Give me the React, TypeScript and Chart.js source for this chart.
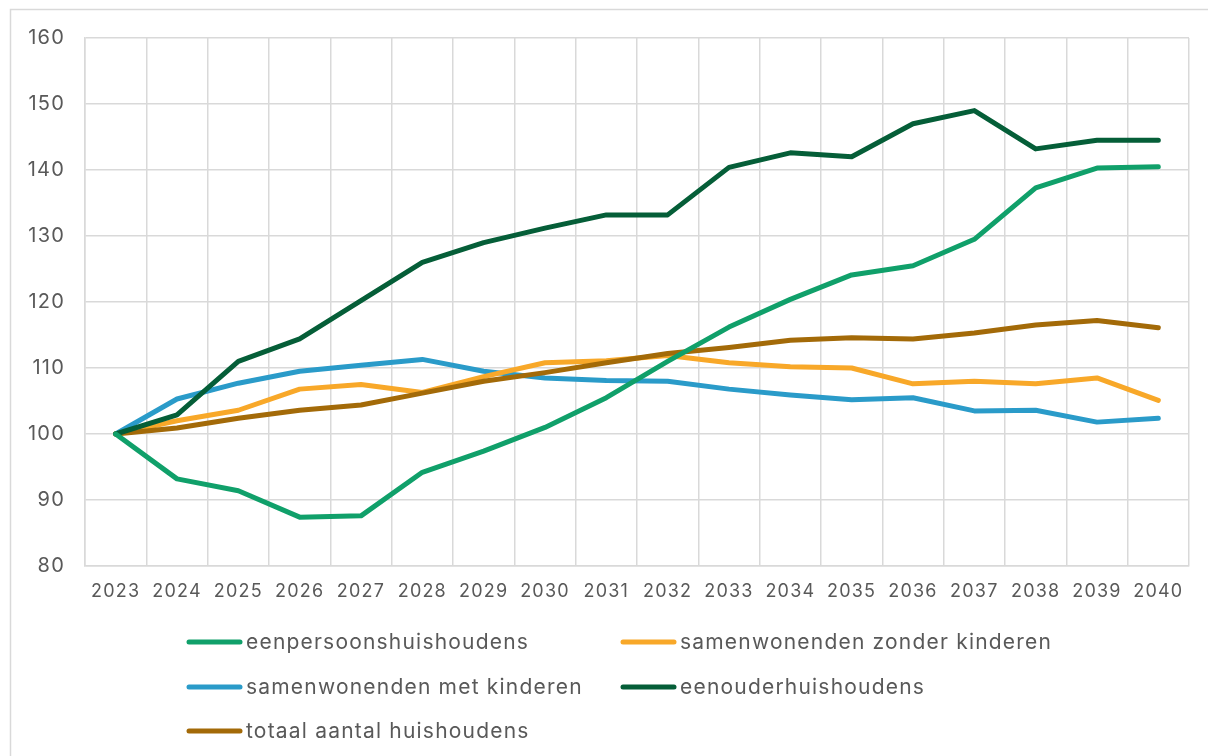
import React, { useEffect, useRef } from "react";
import { Chart, registerables } from "chart.js";

Chart.register(...registerables);

const years = ["2023","2024","2025","2026","2027","2028","2029","2030","2031","2032","2033","2034","2035","2036","2037","2038","2039","2040"];

const eenpersoons = [100, 93.2, 91.4, 87.4, 87.6, 94.2, 97.4, 101.0, 105.5, 111.0, 116.2, 120.4, 124.1, 125.5, 129.5, 137.3, 140.3, 140.5];
const zonderKinderen = [100, 102.0, 103.6, 106.8, 107.5, 106.3, 108.7, 110.8, 111.1, 111.9, 110.8, 110.2, 110.0, 107.6, 108.0, 107.6, 108.5, 105.1];
const metKinderen = [100, 105.3, 107.7, 109.5, 110.4, 111.3, 109.5, 108.5, 108.1, 108.0, 106.8, 105.9, 105.2, 105.5, 103.5, 103.6, 101.8, 102.4];
const eenouder = [100, 102.9, 111.0, 114.4, 120.2, 126.0, 129.0, 131.2, 133.2, 133.2, 140.4, 142.6, 142.0, 147.0, 149.0, 143.2, 144.5, 144.5];
const totaal = [100, 100.9, 102.4, 103.6, 104.4, 106.2, 108.0, 109.3, 110.8, 112.2, 113.1, 114.2, 114.6, 114.4, 115.3, 116.5, 117.2, 116.1];

const seriesLabels = [
  "eenpersoonshuishoudens",
  "samenwonenden zonder kinderen",
  "samenwonenden met kinderen",
  "eenouderhuishoudens",
  "totaal aantal huishoudens",
];
const seriesColors = ["#10A06A", "#F8A829", "#2A9BC9", "#055E38", "#A36A08"];
const seriesData = [eenpersoons, zonderKinderen, metKinderen, eenouder, totaal];
const drawOrder = [0, 3, 4, 1, 2];

const FONT = "Inter";
const TEXT = "#595959";
const GRID = "#d9d9d9";
const SPACING = "1.2px";

const legendPlugin = {
  id: "customLegend",
  beforeInit(chart: any) {
    chart.ctx.letterSpacing = SPACING;
  },
  beforeDraw(chart: any) {
    const ctx = chart.ctx;
    ctx.letterSpacing = SPACING;
    ctx.save();
    ctx.strokeStyle = GRID;
    ctx.lineWidth = 1.5;
    ctx.strokeRect(10.5, 9.5, 1300, 900);
    ctx.restore();
  },
  afterDraw(chart: any) {
    const ctx = chart.ctx;
    const cols = [187, 621];
    const rows = [642, 687, 731];
    ctx.save();
    seriesLabels.forEach((label, i) => {
      const x = cols[i % 2];
      const y = rows[Math.floor(i / 2)];
      ctx.strokeStyle = seriesColors[i];
      ctx.lineWidth = 5;
      ctx.lineCap = "round";
      ctx.beginPath();
      ctx.moveTo(x + 2, y);
      ctx.lineTo(x + 53, y);
      ctx.stroke();
      ctx.fillStyle = TEXT;
      ctx.font = `21px ${FONT}`;
      ctx.letterSpacing = SPACING;
      ctx.textBaseline = "middle";
      ctx.textAlign = "left";
      ctx.fillText(label, x + 59, y + 1);
    });
    ctx.restore();
  },
};

export default function App() {
  const ref = useRef<HTMLCanvasElement>(null);
  useEffect(() => {
    if (!ref.current) return;
    const chart = new Chart(ref.current, {
      type: "line",
      data: {
        labels: years,
        datasets: seriesData.map((d, i) => ({
          label: seriesLabels[i],
          data: d,
          borderColor: seriesColors[i],
          backgroundColor: seriesColors[i],
          borderWidth: 5,
          pointRadius: 0,
          tension: 0,
          borderCapStyle: "round",
          borderJoinStyle: "round",
          order: drawOrder[i],
        })),
      },
      options: {
        animation: false,
        responsive: false,
        maintainAspectRatio: false,
        layout: { padding: { left: 0, right: 19, top: 38, bottom: 130 } },
        plugins: { legend: { display: false }, tooltip: { enabled: false }, title: { display: false } },
        scales: {
          x: {
            offset: true,
            grid: { offset: true, color: GRID, lineWidth: 1.5, drawTicks: false },
            border: { display: true, color: GRID, width: 1.5 },
            ticks: { color: TEXT, font: { family: FONT, size: 18 }, padding: 15, maxRotation: 0, autoSkip: false },
            afterFit: (s: any) => { s.height = 60; },
          },
          y: {
            min: 80,
            max: 160,
            ticks: { stepSize: 10, color: TEXT, font: { family: FONT, size: 20 }, padding: 20 },
            grid: { color: GRID, lineWidth: 1.5, drawTicks: false },
            border: { display: true, color: GRID, width: 1.5 },
            afterFit: (s: any) => { s.width = 85; },
          },
        },
      },
      plugins: [legendPlugin],
    });
    return () => chart.destroy();
  }, []);
  return (
    <div style={{ position: "fixed", left: 0, top: 0, width: 1208, height: 756, background: "#fff" }}>
      <canvas ref={ref} width={1208} height={756} style={{ display: "block" }} />
    </div>
  );
}
